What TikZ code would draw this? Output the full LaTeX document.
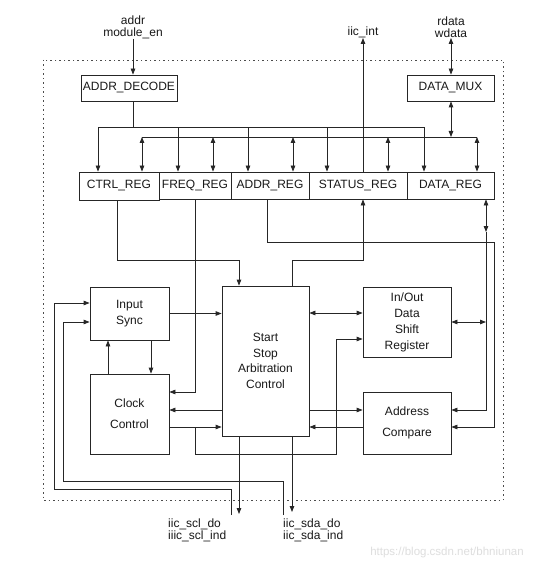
\documentclass[tikz,border=0pt]{standalone}
\usepackage{fontspec}
\setmainfont{Liberation Sans}
\usetikzlibrary{arrows.meta}
\begin{document}
\begin{tikzpicture}[x=1pt,y=-1pt,
  ln/.style={draw=black!85, line width=0.8pt},
  arr/.style={ln, -{Triangle[length=6pt,width=4.5pt]}},
  dbl/.style={ln, {Triangle[length=6pt,width=4.5pt]}-{Triangle[length=6pt,width=4.5pt]}},
  box/.style={draw=black!85, line width=0.8pt, rectangle, inner sep=0pt, align=center,
    font=\fontsize{12}{16}\selectfont, text=black!90},
  lbl/.style={inner sep=0pt, align=center, font=\fontsize{12}{12}\selectfont, text=black!90},
  border/.style={draw=black!70, line width=0.9pt, dash pattern=on 1.5pt off 3pt}
]
\useasboundingbox (0,0) rectangle (550,569);
\fill[white] (0,0) rectangle (550,569);

% outer dotted border
\draw[border] (43,60) rectangle (503,500);

% labels
\node[lbl, anchor=south] (addrtxt) at (133,39) {addr\\module\_en};
\node[lbl, anchor=south] (iicint) at (363,38) {iic\_int};
\node[lbl, anchor=south] (rwtxt) at (451,38) {rdata\\wdata};
\node[lbl, anchor=north west, align=left, font=\fontsize{12}{11.5}\selectfont] (scltxt) at (168,519) {iic\_scl\_do\\iiic\_scl\_ind};
\node[lbl, anchor=north west, align=left, font=\fontsize{12}{11.5}\selectfont] (sdatxt) at (283,519) {iic\_sda\_do\\iic\_sda\_ind};
\node[lbl, text=black!13, font=\fontsize{11.5}{12}\selectfont] (wm) at (447,553) {https://blog.csdn.net/bhniunan};

% top boxes
\node[box, minimum width=96pt, minimum height=26pt] (ad) at (129,88) {ADDR\_DECODE};
\node[box, minimum width=87pt, minimum height=26pt] (mux) at (450.5,88) {DATA\_MUX};

% registers
\node[box, minimum width=80pt, minimum height=28pt] (ctrl) at (119,186) {CTRL\_REG};
\node[box, minimum width=72pt, minimum height=27pt] (freq) at (195,185.5) {FREQ\_REG};
\node[box, minimum width=78pt, minimum height=27pt] (addr) at (270,185.5) {ADDR\_REG};
\node[box, minimum width=98pt, minimum height=27pt] (status) at (358,185.5) {STATUS\_REG};
\node[box, minimum width=87pt, minimum height=27pt] (data) at (450.5,185.5) {DATA\_REG};

% middle blocks
\node[box, minimum width=79pt, minimum height=53pt] (insync) at (129.5,313.5) {Input\\Sync};
\node[box, minimum width=79pt, minimum height=80pt, font=\fontsize{12}{21}\selectfont] (clock) at (129.5,414) {Clock\\Control};
\node[box, minimum width=87pt, minimum height=150pt, font=\fontsize{12}{15.5}\selectfont] (start) at (265.5,361) {Start\\Stop\\Arbitration\\Control};
\node[box, minimum width=88pt, minimum height=70pt] (shift) at (407,322) {In/Out\\Data\\Shift\\Register};
\node[box, minimum width=88pt, minimum height=62pt, font=\fontsize{12}{21}\selectfont] (addrcmp) at (407,423) {Address\\Compare};

% bus coordinates
\coordinate (b1) at (133,127);
\coordinate (b2) at (451,137);
\coordinate (dj) at (486,232);
\coordinate (sclo) at (239,514);
\coordinate (sdao) at (292,512);
\coordinate (scli) at (231,515);
\coordinate (sdai) at (283,515);

% top connections
\draw[arr] (addrtxt.south) -- (addrtxt.south |- ad.north);
\draw[ln] (addrtxt.south |- ad.south) -- (b1);
\draw[arr] (iicint.south |- status.north) -- (iicint.south);
\draw[dbl] (rwtxt.south) -- (rwtxt.south |- mux.north);
\draw[dbl] (mux.south -| b2) -- (b2);

% bus 1 (address decode outputs)
\draw[arr] (b1) -| (ctrl.north -| 98,0);
\draw[arr] (b1) -| (freq.north -| 178,0);
\draw[arr] (b1) -| (addr.north -| 248,0);
\draw[arr] (b1) -| (status.north -| 327,0);
\draw[arr] (b1) -| (data.north -| 424,0);

% bus 2 (data)
\draw[ln] (b2 -| 142,0) -- (b2 -| 477,0);
\draw[dbl] (b2 -| 142,0) -- (ctrl.north -| 142,0);
\draw[dbl] (b2 -| 213,0) -- (freq.north -| 213,0);
\draw[dbl] (b2 -| 293,0) -- (addr.north -| 293,0);
\draw[dbl] (b2 -| 388,0) -- (status.north -| 388,0);
\draw[dbl] (b2 -| 477,0) -- (data.north -| 477,0);

% register outputs
\draw[arr] (ctrl.south -| 117,0) -- (117,260) -| (start.north -| 239,0);
\draw[arr] (freq.south -| 195,0) |- (clock.east |- 0,392);
\draw[arr] (addr.south -| 267,0) |- (494,242) |- (addrcmp.east |- 0,427);
\draw[arr] (start.north -| 292,0) |- (363,260) -- (status.south -| 363,0);
\draw[dbl] (data.south -| dj) -- (dj);
\draw[arr] (dj) |- (addrcmp.east |- 0,410);
\draw[dbl] (shift.east) -- (shift.east -| dj);

% middle connections
\draw[arr] (insync.east) -- (insync.east -| start.west);
\draw[arr] (insync.south -| 151,0) -- (clock.north -| 151,0);
\draw[arr] (clock.north -| 108,0) -- (insync.south -| 108,0);
\draw[dbl] (start.east |- 0,313) -- (shift.west |- 0,313);
\draw[arr] (start.west |- 0,410) -- (clock.east |- 0,410);
\draw[arr] (clock.east |- 0,427) -- (start.west |- 0,427);
\draw[arr] (195,427) |- (336,454) |- (shift.west |- 0,339);
\draw[arr] (start.east |- 0,410) -- (addrcmp.west |- 0,410);
\draw[arr] (addrcmp.west |- 0,427) -- (start.east |- 0,427);

% external I2C lines
\draw[arr] (start.south -| sclo) -- (sclo);
\draw[arr] (start.south -| sdao) -- (sdao);
\draw[arr] (scli) |- (54,489) |- (insync.west |- 0,303);
\draw[arr] (sdai) |- (63,481) |- (insync.west |- 0,322);
\end{tikzpicture}
\end{document}
